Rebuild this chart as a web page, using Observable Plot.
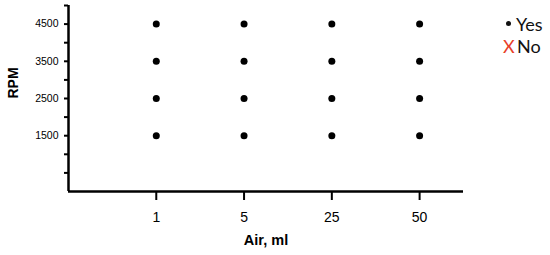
<!DOCTYPE html>
<html>
<head>
<meta charset="utf-8">
<script src="https://cdn.jsdelivr.net/npm/d3@7"></script>
<script src="https://cdn.jsdelivr.net/npm/@observablehq/plot@0.6"></script>
<style>
  html, body { margin: 0; padding: 0; background: #fff; }
  #wrap { position: relative; width: 550px; height: 255px; }
  .leg { position: absolute; font-family: Lato, "Open Sans", sans-serif; font-size: 18px; line-height: 20px; color: #111; white-space: nowrap; }
  .bullet { position: absolute; width: 5px; height: 5px; border-radius: 50%; background: #111; }
</style>
</head>
<body>
<div id="wrap">
  <div class="bullet" style="left:506px; top:21px;"></div>
  <div class="leg" id="legYes" style="left:516px; top:14px;">Yes</div>
  <div class="leg" style="left:503px; top:36px; color:#e8402a;">X</div>
  <div class="leg" id="legNo" style="left:517px; top:36px;">No</div>
</div>
<script>
const airCategories = ["1", "5", "25", "50"];
const rpmLevels = [1500, 2500, 3500, 4500];
const outcome = ["Yes", "Yes", "Yes", "Yes"]; // outcome per rpm level, same for every air category
const yTicks = [500, 1000, 1500, 2000, 2500, 3000, 3500, 4000, 4500, 5000];
const yTickLabels = [1500, 2500, 3500, 4500];

const data = [];
airCategories.forEach((air, i) => {
  rpmLevels.forEach((rpm, j) => {
    data.push({air, idx: i, rpm, result: outcome[j]});
  });
});

const chart = Plot.plot({
  width: 550,
  height: 255,
  marginLeft: 68,
  marginRight: 87,
  marginTop: 5,
  marginBottom: 64,
  x: {domain: [-1, 3.5], label: null},
  y: {domain: [0, 5000], label: null},
  marks: [
    Plot.axisY({
      ticks: yTicks,
      tickSize: 4,
      tickPadding: 6,
      strokeWidth: 2,
      tickFormat: d => yTickLabels.includes(d) ? String(d) : "",
      fontSize: 10.5,
      fontFamily: "Liberation Sans, sans-serif",
      label: null
    }),
    Plot.axisX({
      ticks: airCategories.map((_, i) => i),
      tickSize: 9,
      tickPadding: 12,
      strokeWidth: 2,
      tickFormat: i => airCategories[i],
      fontSize: 14,
      fontFamily: "Liberation Sans, sans-serif",
      label: null
    }),
    Plot.ruleX([-1], {y1: 0, y2: 5000, strokeWidth: 2.5, stroke: "black"}),
    Plot.ruleY([0], {x1: -1, x2: 3.5, strokeWidth: 2.5, stroke: "black"}),
    Plot.dot(data.filter(d => d.result === "Yes"), {x: "idx", y: "rpm", r: 3.5, fill: "black", stroke: "none"}),
    Plot.text(data.filter(d => d.result === "No"), {x: "idx", y: "rpm", text: () => "X", fill: "#e8402a"}),
    Plot.text(["Air, ml"], {frameAnchor: "bottom", dy: 53, fontWeight: "bold", fontSize: 14.5, fontFamily: "Liberation Sans, Arial, sans-serif"}),
    Plot.text(["RPM"], {frameAnchor: "left", dx: -55, rotate: -90, fontWeight: "bold", fontSize: 14, fontFamily: "Liberation Sans, Arial, sans-serif"})
  ]
});
document.getElementById("wrap").prepend(chart);
</script>
</body>
</html>
